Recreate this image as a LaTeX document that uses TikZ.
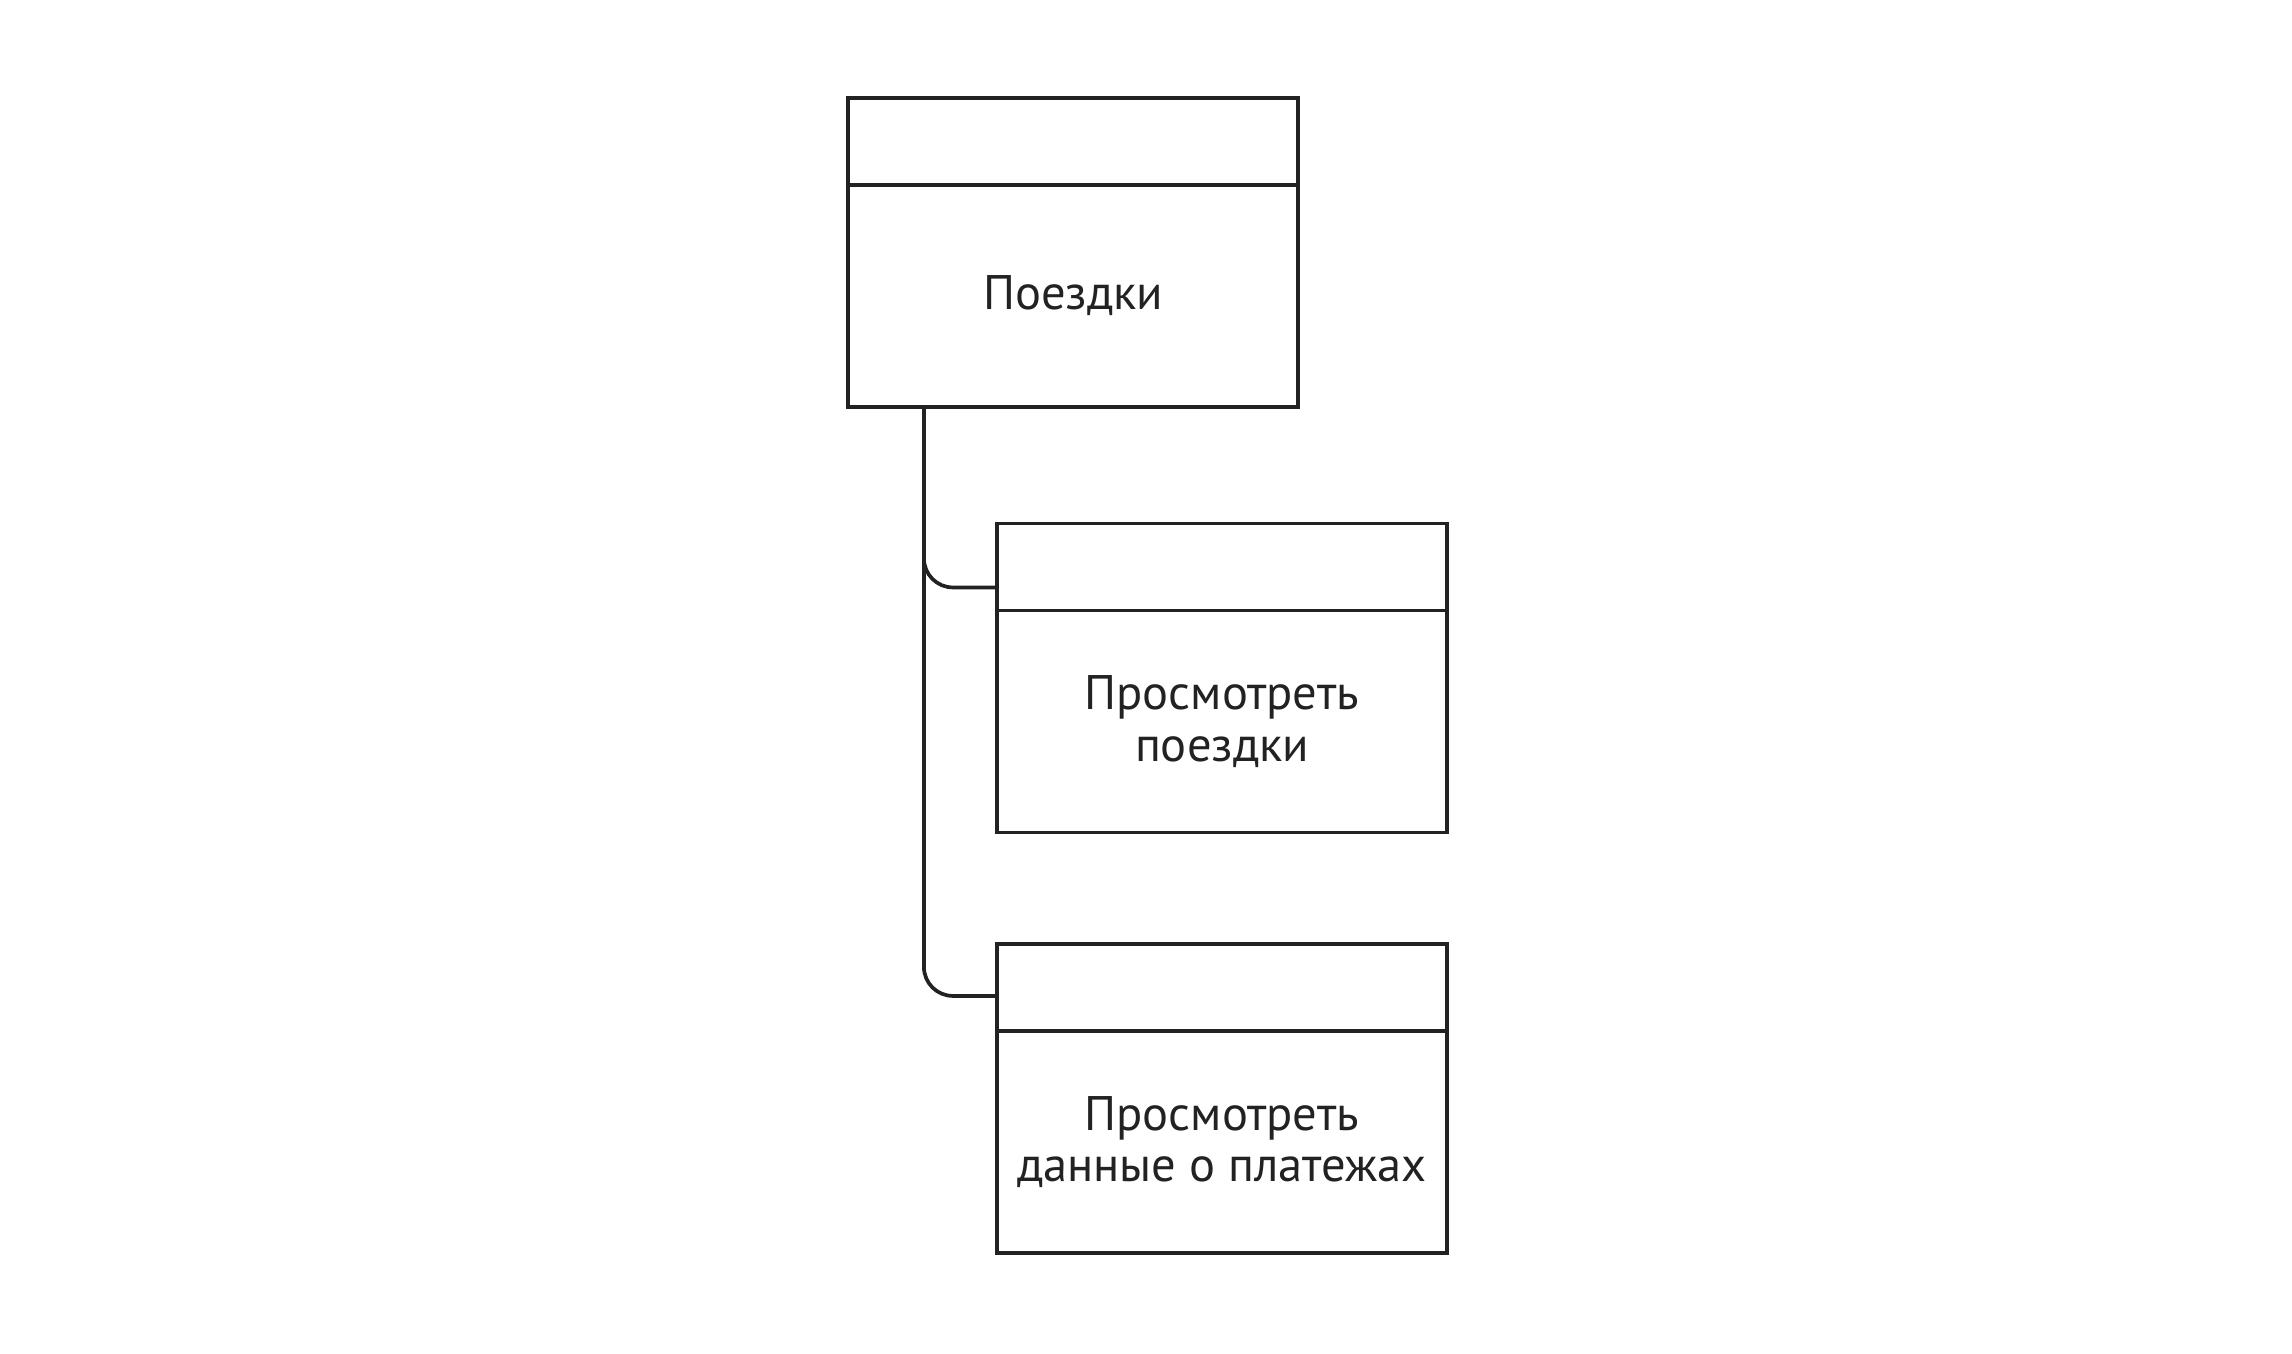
\documentclass[tikz,border=0pt]{standalone}
\usepackage{fontspec}
\setmainfont{PT Sans}
\usepackage{xcolor}
\usepackage{tikz}
\usetikzlibrary{positioning,calc}
\definecolor{ink}{HTML}{222222}
\tikzset{
  ucbody/.style={draw=ink, line width=1.05pt, outer sep=0pt,
                 minimum width=4.5cm, minimum height=2.22cm,
                 align=center, text=ink, font=\fontsize{13.8}{14.6}\selectfont},
  uchead/.style={draw=ink, line width=1.05pt, outer sep=0pt,
                 minimum width=4.5cm, minimum height=0.87cm},
  link/.style={draw=ink, line width=1.05pt, rounded corners=0.29cm},
}
\begin{document}
\begin{tikzpicture}[x=0.01cm, y=-0.01cm]
  \useasboundingbox (0,0) rectangle (2292,1353);

  % главный блок
  \node[ucbody] (trips) at (1073,296) {Поездки};
  \node[uchead, above=0pt of trips] (tripsh) {};

  % дочерние блоки
  \node[ucbody] (view) at (1222,721.5) {Просмотреть\\поездки};
  \node[uchead, above=0pt of view] (viewh) {};

  \node[ucbody] (pay) at (1222,1142) {Просмотреть\\данные о платежах};
  \node[uchead, above=0pt of pay] (payh) {};

  % связи
  \coordinate (trunk) at ([xshift=0.76cm]trips.south west);
  \draw[link] (trunk) |- ([yshift=-0.205cm]viewh.west);
  \draw[link] (trunk) |- ([yshift=-0.085cm]payh.west);
\end{tikzpicture}
\end{document}
